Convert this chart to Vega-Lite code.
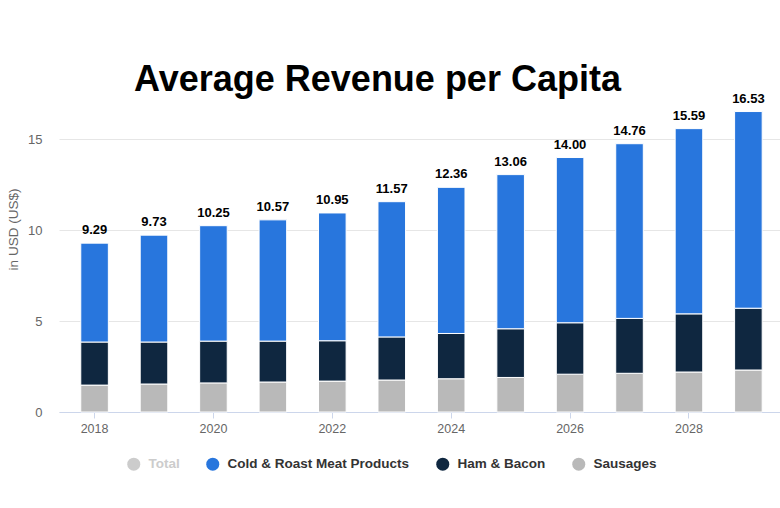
{
  "$schema": "https://vega.github.io/schema/vega-lite/v6.json",
  "autosize": {"type": "none"},
  "padding": {"left": 59, "top": 103, "right": 0, "bottom": 96},
  "width": 721,
  "height": 309,
  "background": "white",
  "config": {
    "font": "Liberation Sans",
    "view": {"stroke": null}
  },
  "title": {
    "text": "Average Revenue per Capita",
    "fontSize": 36,
    "fontWeight": "bold",
    "color": "#000000",
    "font": "Liberation Sans",
    "anchor": "middle",
    "dx": -42,
    "offset": -6
  },
  "datasets": {
    "segments": [
      {"year": 2018, "segment": "Sausages", "value": 1.48},
      {"year": 2018, "segment": "Ham & Bacon", "value": 2.37},
      {"year": 2018, "segment": "Cold & Roast Meat Products", "value": 5.44},
      {"year": 2019, "segment": "Sausages", "value": 1.54},
      {"year": 2019, "segment": "Ham & Bacon", "value": 2.31},
      {"year": 2019, "segment": "Cold & Roast Meat Products", "value": 5.88},
      {"year": 2020, "segment": "Sausages", "value": 1.6},
      {"year": 2020, "segment": "Ham & Bacon", "value": 2.3},
      {"year": 2020, "segment": "Cold & Roast Meat Products", "value": 6.35},
      {"year": 2021, "segment": "Sausages", "value": 1.65},
      {"year": 2021, "segment": "Ham & Bacon", "value": 2.25},
      {"year": 2021, "segment": "Cold & Roast Meat Products", "value": 6.67},
      {"year": 2022, "segment": "Sausages", "value": 1.7},
      {"year": 2022, "segment": "Ham & Bacon", "value": 2.22},
      {"year": 2022, "segment": "Cold & Roast Meat Products", "value": 7.03},
      {"year": 2023, "segment": "Sausages", "value": 1.76},
      {"year": 2023, "segment": "Ham & Bacon", "value": 2.37},
      {"year": 2023, "segment": "Cold & Roast Meat Products", "value": 7.44},
      {"year": 2024, "segment": "Sausages", "value": 1.83},
      {"year": 2024, "segment": "Ham & Bacon", "value": 2.49},
      {"year": 2024, "segment": "Cold & Roast Meat Products", "value": 8.04},
      {"year": 2025, "segment": "Sausages", "value": 1.9},
      {"year": 2025, "segment": "Ham & Bacon", "value": 2.68},
      {"year": 2025, "segment": "Cold & Roast Meat Products", "value": 8.48},
      {"year": 2026, "segment": "Sausages", "value": 2.08},
      {"year": 2026, "segment": "Ham & Bacon", "value": 2.83},
      {"year": 2026, "segment": "Cold & Roast Meat Products", "value": 9.09},
      {"year": 2027, "segment": "Sausages", "value": 2.13},
      {"year": 2027, "segment": "Ham & Bacon", "value": 3.02},
      {"year": 2027, "segment": "Cold & Roast Meat Products", "value": 9.61},
      {"year": 2028, "segment": "Sausages", "value": 2.2},
      {"year": 2028, "segment": "Ham & Bacon", "value": 3.2},
      {"year": 2028, "segment": "Cold & Roast Meat Products", "value": 10.19},
      {"year": 2029, "segment": "Sausages", "value": 2.31},
      {"year": 2029, "segment": "Ham & Bacon", "value": 3.4},
      {"year": 2029, "segment": "Cold & Roast Meat Products", "value": 10.82}
    ],
    "totals": [
      {"year": 2018, "total": 9.29},
      {"year": 2019, "total": 9.73},
      {"year": 2020, "total": 10.25},
      {"year": 2021, "total": 10.57},
      {"year": 2022, "total": 10.95},
      {"year": 2023, "total": 11.57},
      {"year": 2024, "total": 12.36},
      {"year": 2025, "total": 13.06},
      {"year": 2026, "total": 14.0},
      {"year": 2027, "total": 14.76},
      {"year": 2028, "total": 15.59},
      {"year": 2029, "total": 16.53}
    ]
  },
  "encoding": {
    "x": {
      "field": "year",
      "type": "ordinal",
      "scale": {"paddingInner": 0.536, "paddingOuter": 0.333, "align": 0.55},
      "axis": {
        "title": null,
        "values": [2018, 2020, 2022, 2024, 2026, 2028],
        "labelAngle": 0,
        "labelColor": "#666666",
        "labelFontSize": 12.5,
        "labelPadding": 4,
        "tickSize": 6,
        "tickColor": "#ccd6eb",
        "domainColor": "#ccd6eb",
        "grid": false
      }
    }
  },
  "layer": [
    {
      "data": {"name": "segments"},
      "mark": {"type": "bar", "stroke": "white", "strokeWidth": 1},
      "encoding": {
        "y": {
          "field": "value",
          "type": "quantitative",
          "stack": "zero",
          "scale": {"domain": [0, 17], "nice": false},
          "axis": {
            "title": "in USD (US$)",
            "titleColor": "#666666",
            "titleFontSize": 13.5,
            "titleFontWeight": "normal",
            "titleX": -46,
            "titleY": 126,
            "titleBaseline": "middle",
            "values": [0, 5, 10, 15],
            "labelColor": "#666666",
            "labelFontSize": 13,
            "labelPadding": 17,
            "ticks": false,
            "domain": false,
            "grid": true,
            "gridColor": "#e6e6e6"
          }
        },
        "color": {
          "field": "segment",
          "type": "nominal",
          "scale": {
            "domain": ["Total", "Cold & Roast Meat Products", "Ham & Bacon", "Sausages"],
            "range": ["#cccccc", "#2876dd", "#0f2740", "#b9b9b9"]
          },
          "legend": {
            "title": null,
            "orient": "none",
            "direction": "horizontal",
            "legendX": 68,
            "legendY": 354,
            "symbolType": "circle",
            "symbolSize": 169,
            "symbolStrokeWidth": 0,
            "labelFontSize": 13.5,
            "labelFontWeight": "bold",
            "labelColor": {"expr": "datum.value === 'Total' ? '#cccccc' : '#333333'"},
            "labelLimit": 400,
            "labelOffset": 8,
            "columnPadding": 26,
            "padding": 0
          }
        },
        "order": {"field": "segment", "sort": "descending"}
      }
    },
    {
      "data": {"name": "totals"},
      "mark": {
        "type": "text",
        "baseline": "bottom",
        "dy": -6,
        "fontSize": 13,
        "fontWeight": "bold",
        "color": "#000000"
      },
      "encoding": {
        "y": {"field": "total", "type": "quantitative"},
        "text": {"field": "total", "type": "quantitative", "format": ".2f"}
      }
    }
  ]
}
